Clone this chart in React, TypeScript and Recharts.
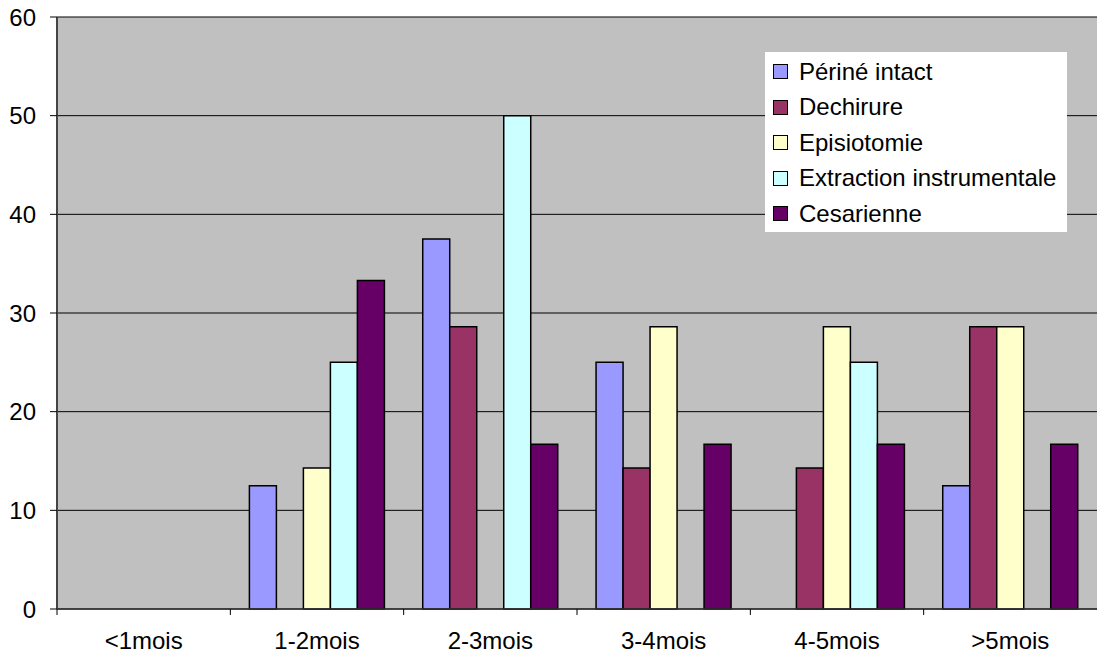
import { Bar, BarChart, CartesianGrid, Legend, XAxis, YAxis } from "recharts";

const categories = ["<1mois", "1-2mois", "2-3mois", "3-4mois", "4-5mois", ">5mois"];
const perineIntact = [0, 12.5, 37.5, 25, 0, 12.5];
const dechirure = [0, 0, 28.6, 14.3, 14.3, 28.6];
const episiotomie = [0, 14.3, 0, 28.6, 28.6, 28.6];
const extraction = [0, 25, 50, 0, 25, 0];
const cesarienne = [0, 33.3, 16.7, 16.7, 16.7, 16.7];
const yTicks = [0, 10, 20, 30, 40, 50, 60];

const series = [
  { key: "perine", name: "Périné intact", values: perineIntact, color: "#9999FF" },
  { key: "dechirure", name: "Dechirure", values: dechirure, color: "#993366" },
  { key: "episiotomie", name: "Episiotomie", values: episiotomie, color: "#FFFFCC" },
  { key: "extraction", name: "Extraction instrumentale", values: extraction, color: "#CCFFFF" },
  { key: "cesarienne", name: "Cesarienne", values: cesarienne, color: "#660066" },
];

const data = categories.map((name, i) => {
  const row: Record<string, string | number> = { name };
  series.forEach((s) => (row[s.key] = s.values[i]));
  return row;
});

const W = 1098;
const H = 654;
const AXIS_W = 57;
const RIGHT = 1;
const FONT = "'Liberation Sans', Arial, sans-serif";
const band = (W - AXIS_W - RIGHT) / categories.length;

function XTick(props: any) {
  const { x, y, payload } = props;
  const left = x - band / 2;
  return (
    <g>
      <line x1={left} y1={y} x2={left} y2={y + 6} stroke="#000" />
      <text x={x} y={y + 31} textAnchor="middle" dominantBaseline="central" fontSize={24} fill="#000" fontFamily={FONT}>
        {payload.value}
      </text>
    </g>
  );
}

function LegendBox() {
  return (
    <div
      style={{
        background: "#fff",
        width: 302,
        height: 180,
        paddingTop: 2,
        boxSizing: "border-box",
        fontFamily: FONT,
        fontSize: 24,
        color: "#000",
      }}
    >
      {series.map((s) => (
        <div key={s.key} style={{ display: "flex", alignItems: "center", height: 35.5 }}>
          <span
            style={{
              display: "inline-block",
              width: 13,
              height: 13,
              marginLeft: 8,
              marginRight: 11,
              background: s.color,
              border: "1px solid #000",
            }}
          />
          <span style={{ whiteSpace: "nowrap" }}>{s.name}</span>
        </div>
      ))}
    </div>
  );
}

export default function App() {
  return (
    <div style={{ position: "absolute", left: 0, top: 0, width: W, height: H, background: "#fff" }}>
      <BarChart
        width={W}
        height={H}
        data={data}
        margin={{ top: 17, right: RIGHT, bottom: 0, left: 0 }}
        barCategoryGap="11%"
        barGap={0}
      >
        <CartesianGrid vertical={false} fill="#C0C0C0" stroke="#000" strokeOpacity={1} />
        <XAxis
          dataKey="name"
          height={45}
          tickSize={0}
          tickMargin={0}
          tick={<XTick />}
          axisLine={{ stroke: "#333", strokeWidth: 1.5 }}
          interval={0}
        />
        <YAxis
          width={AXIS_W}
          domain={[0, 60]}
          ticks={yTicks}
          tickSize={7}
          tickMargin={14}
          axisLine={{ stroke: "#444", strokeWidth: 2 }}
          tickLine={{ stroke: "#000" }}
          tick={{ fill: "#000", fontSize: 24, fontFamily: FONT }}
        />
        <Legend
          layout="vertical"
          align="center"
          verticalAlign="middle"
          content={<LegendBox />}
          wrapperStyle={{ left: 765, top: 52, width: 302, height: 180 }}
        />
        {series.map((s) => (
          <Bar
            key={s.key}
            dataKey={s.key}
            name={s.name}
            fill={s.color}
            stroke="#000"
            strokeWidth={1.5}
            isAnimationActive={false}
          />
        ))}
      </BarChart>
    </div>
  );
}
